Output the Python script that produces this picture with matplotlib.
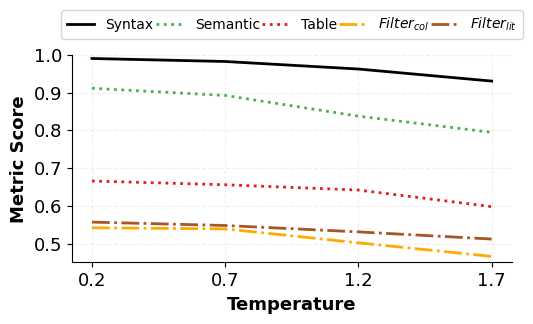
import matplotlib
matplotlib.use("Agg")
import matplotlib.pyplot as plt

temps = [0.2, 0.7, 1.2, 1.7]
syntax = [0.991, 0.983, 0.963, 0.931]
semantic = [0.912, 0.893, 0.838, 0.795]
table = [0.666, 0.656, 0.642, 0.598]
filter_col = [0.542, 0.539, 0.502, 0.466]
filter_lit = [0.557, 0.548, 0.531, 0.512]

fig, ax = plt.subplots(figsize=(5.33, 3.24), dpi=100)

ax.plot(temps, syntax, color='black', linestyle='-', linewidth=2, label='Syntax')
ax.plot(temps, semantic, color='#4daf4a', linestyle=':', linewidth=2, label='Semantic')
ax.plot(temps, table, color='#e41a1c', linestyle=':', linewidth=2, label='Table')
ax.plot(temps, filter_col, color='#ffaa00', linestyle='-.', linewidth=2, label='$Filter_{col}$')
ax.plot(temps, filter_lit, color='#a65628', linestyle='-.', linewidth=2, label='$Filter_{lit}$')

ax.set_xticks(temps)
ax.set_xticklabels([str(t) for t in temps])
ax.set_ylim(0.45, 1.0)
ax.set_yticks([0.5, 0.6, 0.7, 0.8, 0.9, 1.0])
ax.tick_params(labelsize=13)
ax.set_xlabel('Temperature', fontsize=13, fontweight='bold')
ax.set_ylabel('Metric Score', fontsize=13, fontweight='bold')
ax.grid(True, linestyle='--', alpha=0.2)
ax.spines['top'].set_visible(False)
ax.spines['right'].set_visible(False)

ax.legend(loc='lower center', bbox_to_anchor=(0.5, 1.045), ncol=5, fontsize=10,
          handlelength=2.0, columnspacing=0.15, handletextpad=0.8, borderpad=0.4)

fig.subplots_adjust(left=0.135, right=0.96, bottom=0.19, top=0.83)
fig.savefig('out.png', dpi=100)
